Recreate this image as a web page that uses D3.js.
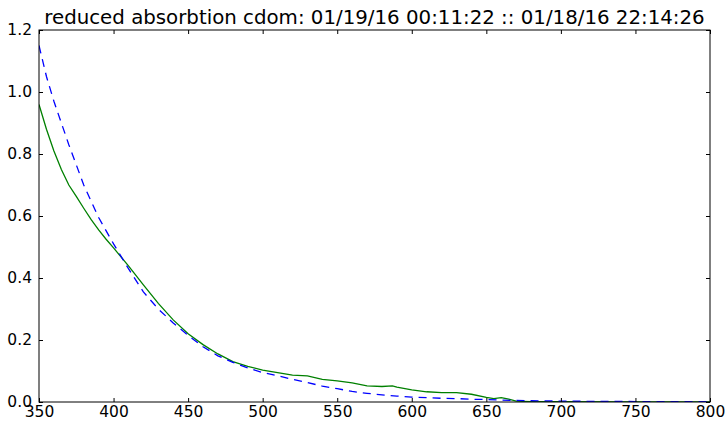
<!DOCTYPE html>
<html>
<head>
<meta charset="utf-8">
<script src="https://cdn.jsdelivr.net/npm/d3@7"></script>
<style>
  body { margin: 0; background: #fff; }
  text { font-family: "DejaVu Sans", sans-serif; }
</style>
</head>
<body>
<svg id="chart"></svg>
<script>
// wavelength (nm) and reduced absorption values
const modelWl = [350, 355, 360, 370, 380, 390, 400, 410, 420, 430, 440, 450, 460, 470, 480, 490,
  500, 510, 520, 530, 540, 550, 560, 570, 580, 590, 600, 610, 620, 630, 640, 650, 660, 670, 680,
  690, 700, 720, 750, 780, 800];
const modelVals = [1.15, 1.05, 0.97, 0.83, 0.70, 0.595, 0.51, 0.43, 0.355, 0.30, 0.255, 0.215, 0.178,
  0.149, 0.128, 0.11, 0.095, 0.085, 0.073, 0.063, 0.051, 0.043, 0.034, 0.028, 0.023, 0.019, 0.016,
  0.014, 0.012, 0.011, 0.009, 0.008, 0.006, 0.005, 0.004, 0.0035, 0.003, 0.002, 0.0015, 0.001, 0.001];

const measWl = [350, 355, 360, 365, 370, 375, 380, 385, 390, 395, 400, 410, 420, 430, 440, 450, 460,
  470, 480, 490, 500, 510, 520, 530, 540, 550, 560, 570, 580, 587, 590, 600, 610, 620, 630, 640, 650,
  655, 660, 665, 670, 680, 700, 750, 800];
const measVals = [0.96, 0.88, 0.81, 0.75, 0.70, 0.663, 0.625, 0.588, 0.555, 0.525, 0.497, 0.439, 0.378,
  0.318, 0.265, 0.22, 0.185, 0.155, 0.13, 0.115, 0.103, 0.095, 0.087, 0.084, 0.073, 0.068, 0.062,
  0.052, 0.05, 0.052, 0.048, 0.039, 0.033, 0.030, 0.030, 0.025, 0.015, 0.011, 0.014, 0.009, 0.003,
  0.001, 0.001, 0.0, 0.0];

const xTicks = [350, 400, 450, 500, 550, 600, 650, 700, 750, 800];
const yTicks = [0.0, 0.2, 0.4, 0.6, 0.8, 1.0, 1.2];
const title = "reduced absorbtion cdom: 01/19/16 00:11:22 :: 01/18/16 22:14:26";

const ctx = {
  width: 725,
  height: 424,
  margin: { top: 30, right: 15, bottom: 22, left: 39 }
};

const svg = d3.select("#chart")
  .attr("width", ctx.width)
  .attr("height", ctx.height);

const x = d3.scaleLinear()
  .domain([350, 800])
  .range([ctx.margin.left, ctx.width - ctx.margin.right]);

const y = d3.scaleLinear()
  .domain([0, 1.2])
  .range([ctx.height - ctx.margin.bottom, ctx.margin.top]);

svg.append("clipPath").attr("id", "plot-clip")
  .append("rect")
    .attr("x", x(350)).attr("y", y(1.2))
    .attr("width", x(800) - x(350))
    .attr("height", y(0) - y(1.2));

const line = d3.line()
  .x(d => x(d[0]))
  .y(d => y(d[1]));

const plot = svg.append("g").attr("clip-path", "url(#plot-clip)");

// green measured curve
plot.append("path")
  .datum(measWl.map((w, i) => [w, measVals[i]]))
  .attr("d", line)
  .attr("fill", "none")
  .attr("stroke", "#008000")
  .attr("stroke-width", 1.3);

// blue dashed fit
plot.append("path")
  .datum(modelWl.map((w, i) => [w, modelVals[i]]))
  .attr("d", line)
  .attr("fill", "none")
  .attr("stroke", "#0000ff")
  .attr("stroke-width", 1.3)
  .attr("stroke-dasharray", "8,6");

// axes, ticks pointing inward on all four sides
function styleAxis(g) {
  g.select(".domain").remove();
  g.selectAll("line").attr("stroke", "#000");
  g.selectAll("text").attr("fill", "#000").style("font-size", "15.5px");
}

svg.append("g")
  .attr("transform", `translate(0, ${y(0)})`)
  .call(d3.axisBottom(x).tickValues(xTicks).tickFormat(d3.format("d"))
    .tickSizeInner(-4).tickSizeOuter(0).tickPadding(4))
  .call(styleAxis);

svg.append("g")
  .attr("transform", `translate(0, ${y(1.2)})`)
  .call(d3.axisTop(x).tickValues(xTicks).tickFormat("")
    .tickSizeInner(-4).tickSizeOuter(0))
  .call(styleAxis);

svg.append("g")
  .attr("transform", `translate(${x(350)}, 0)`)
  .call(d3.axisLeft(y).tickValues(yTicks).tickFormat(d3.format(".1f"))
    .tickSizeInner(-4).tickSizeOuter(0).tickPadding(7))
  .call(styleAxis);

svg.append("g")
  .attr("transform", `translate(${x(800)}, 0)`)
  .call(d3.axisRight(y).tickValues(yTicks).tickFormat("")
    .tickSizeInner(-4).tickSizeOuter(0))
  .call(styleAxis);

// frame
svg.append("rect")
  .attr("x", x(350)).attr("y", y(1.2))
  .attr("width", x(800) - x(350))
  .attr("height", y(0) - y(1.2))
  .attr("fill", "none")
  .attr("stroke", "#000")
  .attr("stroke-width", 1);

svg.append("text")
  .attr("x", (x(350) + x(800)) / 2)
  .attr("y", 24)
  .attr("text-anchor", "middle")
  .style("font-size", "19.8px")
  .attr("fill", "#000")
  .text(title);
</script>
</body>
</html>
